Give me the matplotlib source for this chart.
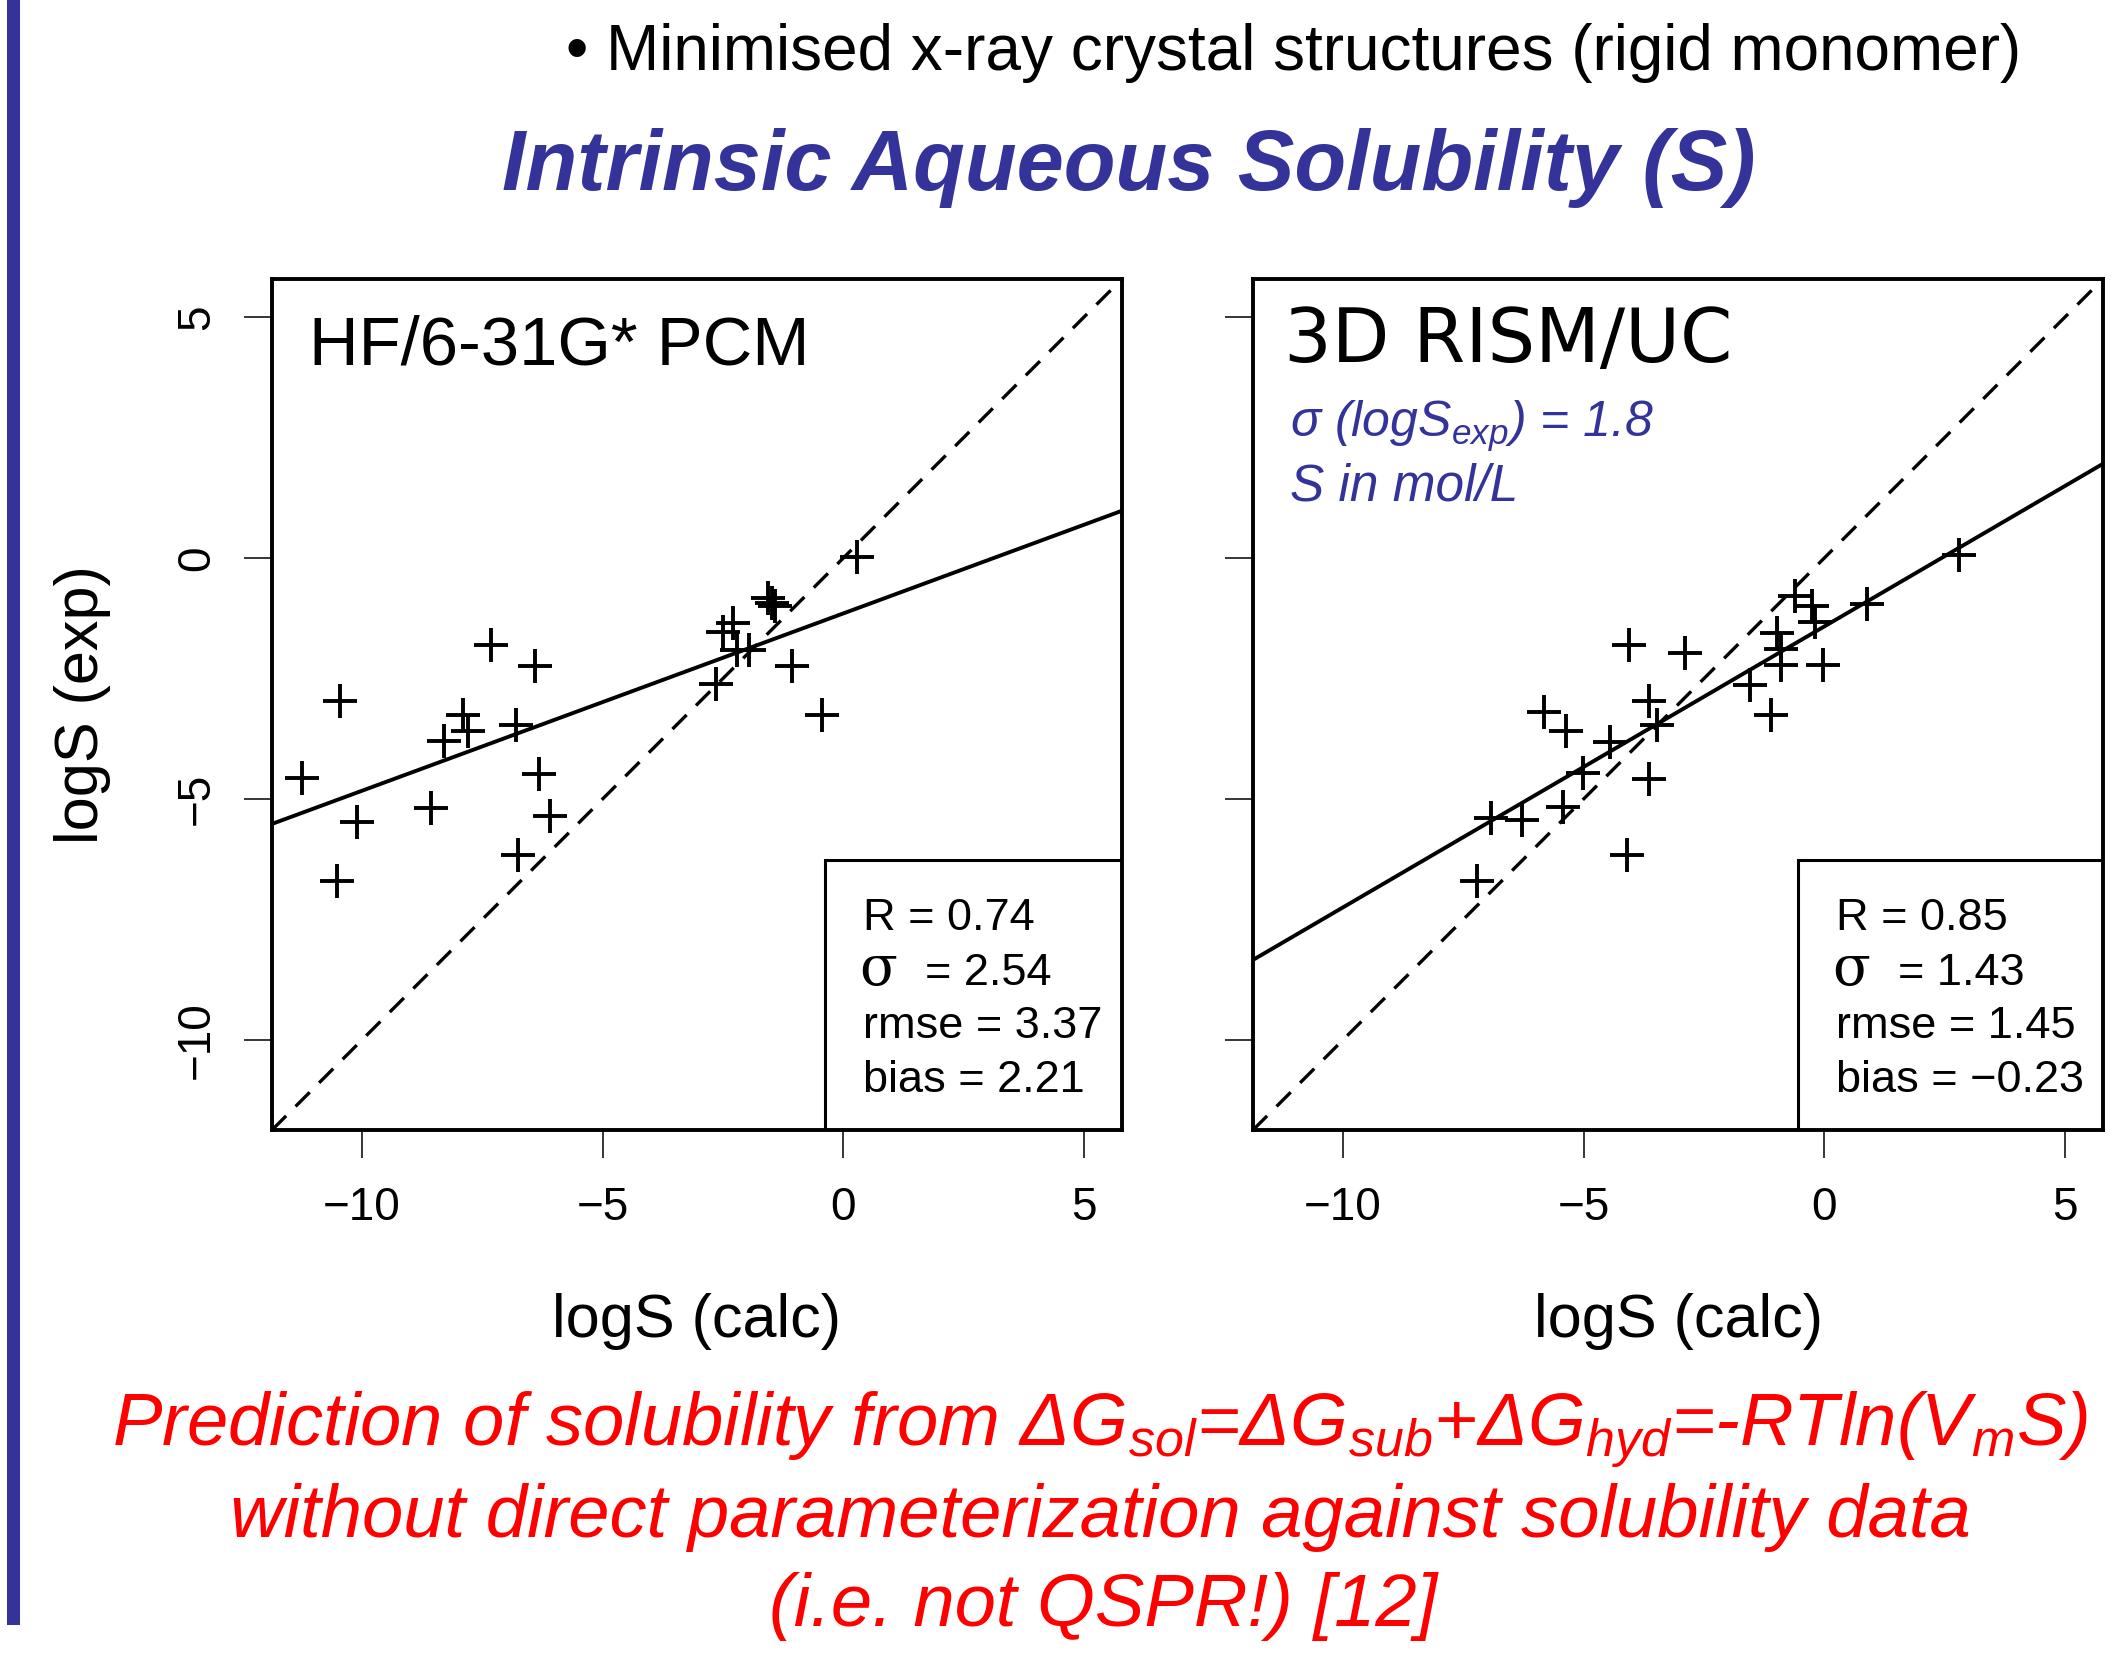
import matplotlib
matplotlib.use('Agg')
import matplotlib.pyplot as plt
from matplotlib.patches import Rectangle

plt.rcParams['font.family'] = ['Liberation Sans', 'DejaVu Sans']
plt.rcParams['mathtext.fontset'] = 'custom'
plt.rcParams['mathtext.rm'] = 'Liberation Sans'
plt.rcParams['mathtext.it'] = 'Liberation Sans:italic'

# values
hf_calc = [0.29, -1.56, -1.49, -1.42, -2.29, -2.49, -2.21, -1.97, -1.07, -6.41,
           -7.33, -10.46, -2.64, -0.44, -7.91, -7.79, -8.30, -6.80, -11.24, -6.32,
           -8.56, -10.11, -6.10, -6.76, -10.52]
hf_exp = [0.03, -0.83, -0.93, -1.00, -1.34, -1.54, -1.91, -1.90, -2.25, -2.24,
          -1.81, -2.96, -2.62, -3.25, -3.25, -3.60, -3.80, -3.46, -4.57, -4.49,
          -5.18, -5.47, -5.36, -6.17, -6.71]
rism_calc = [2.79, 0.88, -0.61, -0.26, -0.19, -0.99, -0.89, -0.89, -0.02, -4.05,
             -2.90, -1.54, -1.11, -3.64, -5.83, -5.37, -4.45, -3.47, -5.02, -3.64,
             -6.92, -6.29, -5.43, -4.10, -7.21]
rism_exp = [0.06, -0.96, -0.79, -1.00, -1.33, -1.55, -1.89, -2.21, -2.23, -1.81,
            -1.98, -2.63, -3.25, -2.96, -3.19, -3.60, -3.81, -3.46, -4.46, -4.58,
            -5.39, -5.44, -5.16, -6.17, -6.71]

# fitted lines (intercept, slope) as drawn
hf_fit = (-1.15, 0.368)
rism_fit = (-1.42, 0.583)

hf_stats = ['R = 0.74', '= 2.54', 'rmse = 3.37', 'bias = 2.21']
rism_stats = ['R = 0.85', '= 1.43', 'rmse = 1.45', 'bias = \u22120.23']

ticks = [-10, -5, 0, 5]
lims = (-11.87, 5.79)
blue = '#333399'

W, H = 2112, 1655
fig = plt.figure(figsize=(W / 100, H / 100), dpi=100)


def fx(px):
    return px / W


def fy(py):
    return 1 - py / H


# slide decoration
fig.add_artist(Rectangle((fx(7), fy(1625)), fx(13), 1625 / H, transform=fig.transFigure,
                         facecolor=blue, edgecolor='none'))
fig.text(fx(566), fy(70), '\u2022 Minimised x-ray crystal structures (rigid monomer)',
         fontsize=46, va='baseline')
fig.text(fx(1129), fy(190), 'Intrinsic Aqueous Solubility (S)', ha='center', va='baseline',
         fontsize=61, weight='bold', style='italic', color=blue)

panels = [
    (272, hf_calc, hf_exp, hf_fit, hf_stats, 'HF/6-31G* PCM', 0.6506, 0.768),
    (1253, rism_calc, rism_exp, rism_fit, rism_stats, '3D RISM/UC', 0.641, 0.759),
]

for i, (x0, xc, ye, fit, stats, name, boxx, eqx) in enumerate(panels):
    ax = fig.add_axes([fx(x0), fy(1130), 850 / W, 851 / H])
    ax.plot(xc, ye, '+', color='black', markersize=25, mew=2.8)
    ax.axline((0, 0), slope=1, color='black', lw=2.4, ls=(0, (6, 4)))
    ax.axline((0, fit[0]), slope=fit[1], color='black', lw=2.8)
    ax.set_xlim(lims)
    ax.set_ylim(lims)
    ax.set_xticks(ticks)
    ax.set_yticks(ticks)
    for s in ax.spines.values():
        s.set_linewidth(2.8)
    ax.tick_params(axis='both', length=20, width=1.1, labelsize=33)
    ax.tick_params(axis='x', pad=20)
    ax.tick_params(axis='y', pad=18, labelrotation=90)
    plt.setp(ax.get_yticklabels(), va='center')
    if i == 1:
        ax.tick_params(axis='y', labelleft=False)
    else:
        ax.set_ylabel('logS (exp)', fontsize=44, va='center')
        ax.yaxis.set_label_coords(-0.2235, 0.5)
    ax.set_xlabel('logS (calc)', fontsize=44, va='baseline')
    ax.xaxis.set_label_coords(0.5, -0.243)

    if i == 0:
        ax.text(0.0435, 0.90, name, transform=ax.transAxes, fontsize=49.5, va='baseline')
    else:
        ax.text(0.0365, 0.903, name, transform=ax.transAxes, fontsize=54,
                family=['DejaVu Sans'], va='baseline')

    ax.add_patch(Rectangle((boxx, 0), 1 - boxx, 0.317, transform=ax.transAxes,
                           fill=False, lw=2.2, edgecolor='black'))
    tx = boxx + 0.0445
    rows = [0.235, 0.170, 0.108, 0.045]
    ax.text(tx, rows[0], stats[0], transform=ax.transAxes, fontsize=32.5, va='baseline')
    ax.text(tx - 0.004, rows[1], '\u03c3', transform=ax.transAxes, fontsize=40,
            family=['DejaVu Serif'], va='baseline')
    ax.text(eqx, rows[1], stats[1], transform=ax.transAxes, fontsize=32.5, va='baseline')
    ax.text(tx, rows[2], stats[2], transform=ax.transAxes, fontsize=32.5, va='baseline')
    ax.text(tx, rows[3], stats[3], transform=ax.transAxes, fontsize=32.5, va='baseline')

    if i == 1:
        ax.text(0.0435, 0.814, '\u03c3 (logS$_{exp}$) = 1.8', transform=ax.transAxes,
                fontsize=36, style='italic', color=blue, va='baseline')
        ax.text(0.0435, 0.740, 'S in mol/L', transform=ax.transAxes,
                fontsize=37, style='italic', color=blue, va='baseline')

red = '#ff0000'
fig.text(fx(1100), fy(1446),
         'Prediction of solubility from \u0394G$_{sol}$=\u0394G$_{sub}$+\u0394G$_{hyd}$=-RTln(V$_m$S)',
         ha='center', va='baseline', fontsize=53.5, style='italic', color=red)
fig.text(fx(1100), fy(1537), 'without direct parameterization against solubility data',
         ha='center', va='baseline', fontsize=53.5, style='italic', color=red)
fig.text(fx(1103), fy(1626), '(i.e. not QSPR!) [12]',
         ha='center', va='baseline', fontsize=53.5, style='italic', color=red)

fig.savefig('out.png', dpi=100)
